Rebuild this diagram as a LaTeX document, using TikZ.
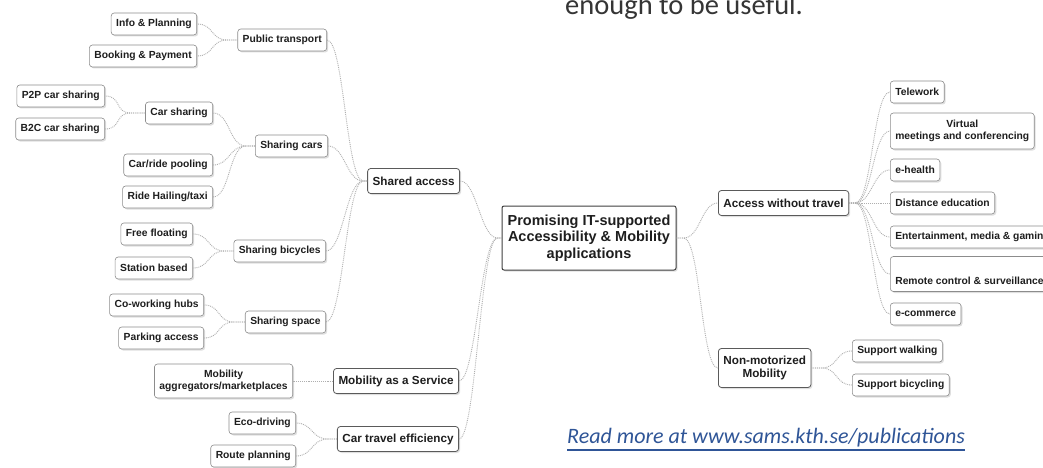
\documentclass[tikz,border=0pt]{standalone}
\usepackage{fontspec}
\setmainfont{Liberation Sans}
\newfontfamily\pagefont{Carlito}
\usetikzlibrary{shadows}
\definecolor{linkblue}{HTML}{2F5597}
\definecolor{boxline}{HTML}{8C8C8C}
\definecolor{topicline}{HTML}{5A5A5A}
\definecolor{wire}{HTML}{AFAFAF}
\definecolor{ink}{HTML}{1E1E1E}
\tikzset{
  leafbox/.style={draw=boxline, fill=white, rounded corners=3pt, line width=0.6pt,
    font=\bfseries\fontsize{10.3}{11.5}\selectfont, text=ink, align=center,
    inner xsep=5pt, inner ysep=2pt, minimum height=22pt,
    drop shadow={shadow xshift=1.5pt, shadow yshift=-1.5pt, opacity=0.25}},
  topicbox/.style={leafbox, draw=topicline, line width=0.8pt,
    font=\bfseries\fontsize{11.7}{13.5}\selectfont, minimum height=25pt},
  rootbox/.style={topicbox, draw=black!75, line width=1pt, rounded corners=2pt,
    font=\bfseries\fontsize{14.5}{16.5}\selectfont, minimum width=174pt, minimum height=64pt},
  lwire/.style={draw=wire, line width=0.9pt, densely dotted, out=180, in=0, distance=17pt},
  rwire/.style={lwire, out=0, in=180}
}
\begin{document}
\begin{tikzpicture}[x=1pt,y=-1pt]
\path[use as bounding box, clip] (0,0) rectangle (1043,468);
\fill[white] (0,0) rectangle (1043,468);

\node[font=\pagefont\fontsize{28.5}{30}\selectfont, text=ink!90, anchor=base west, inner sep=0] (usenote) at (565,15) {enough to be useful.};

\node[rootbox] (root) at (589,238) {Promising IT-supported\\Accessibility \& Mobility\\applications};

% left half
\node[topicbox, anchor=east] (sa) at (460,181) {Shared access};
\node[topicbox, anchor=east] (maas) at (459,381) {Mobility as a Service};
\node[topicbox, anchor=east] (cte) at (459,439) {Car travel efficiency};

\node[leafbox, anchor=east] (pt) at (327,40) {Public transport};
\node[leafbox, anchor=east] (info) at (197,24) {Info \& Planning};
\node[leafbox, anchor=east] (booking) at (197,56) {Booking \& Payment};

\node[leafbox, anchor=east] (sc) at (328,146) {Sharing cars};
\node[leafbox, anchor=east] (cs) at (213,113) {Car sharing};
\node[leafbox, anchor=east] (p2p) at (105,96) {P2P car sharing};
\node[leafbox, anchor=east] (b2c) at (105,129) {B2C car sharing};
\node[leafbox, anchor=east] (pool) at (213,165) {Car/ride pooling};
\node[leafbox, anchor=east] (hail) at (213,197) {Ride Hailing/taxi};

\node[leafbox, anchor=east] (sb) at (326,251) {Sharing bicycles};
\node[leafbox, anchor=east] (free) at (193,234) {Free floating};
\node[leafbox, anchor=east] (station) at (193,268) {Station based};

\node[leafbox, anchor=east] (ss) at (326,322) {Sharing space};
\node[leafbox, anchor=east] (cowork) at (204,305) {Co-working hubs};
\node[leafbox, anchor=east] (parking) at (204,338) {Parking access};

\node[leafbox, anchor=east, minimum height=34pt] (agg) at (293,381) {Mobility\\aggregators/marketplaces};
\node[leafbox, anchor=east] (eco) at (296,423) {Eco-driving};
\node[leafbox, anchor=east] (route) at (296,456) {Route planning};

% right half
\node[topicbox, anchor=west] (awt) at (718,203) {Access without travel};
\node[topicbox, anchor=west, minimum height=39pt] (nmm) at (718,368) {Non-motorized\\Mobility};

\node[leafbox, anchor=west] (tele) at (890,92) {Telework};
\node[leafbox, anchor=west, minimum height=36pt] (virtual) at (890,131) {Virtual\\meetings and conferencing};
\node[leafbox, anchor=west] (ehealth) at (890,170) {e-health};
\node[leafbox, anchor=west] (distance) at (890,203) {Distance education};
\node[leafbox, anchor=west] (ent) at (890,237) {Entertainment, media \& gaming};
\node[leafbox, anchor=west, minimum height=35pt] (remote) at (890,274) {\strut\\[2pt]Remote control \& surveillance};
\node[leafbox, anchor=west] (ecom) at (890,314) {e-commerce};
\node[leafbox, anchor=west] (walk) at (852,351) {Support walking};
\node[leafbox, anchor=west] (bike) at (852,385) {Support bicycling};

% connectors
\draw[lwire] (root.west) -- ++(-4,0) to (sa.east);
\draw[lwire] (root.west) -- ++(-4,0) to (maas.east);
\draw[lwire] (root.west) -- ++(-4,0) to (cte.east);
\draw[rwire] (root.east) -- ++(7,0) to (awt.west);
\draw[rwire] (root.east) -- ++(7,0) to (nmm.west);

\draw[lwire] (sa.west) -- ++(-4,0) to (pt.east);
\draw[lwire] (sa.west) -- ++(-4,0) to (sc.east);
\draw[lwire] (sa.west) -- ++(-4,0) to (sb.east);
\draw[lwire] (sa.west) -- ++(-4,0) to (ss.east);

\draw[lwire] (pt.west) -- ++(-10,0) to (info.east);
\draw[lwire] (pt.west) -- ++(-10,0) to (booking.east);
\draw[lwire] (sc.west) -- ++(-9,0) to (cs.east);
\draw[lwire] (sc.west) -- ++(-9,0) to (pool.east);
\draw[lwire] (sc.west) -- ++(-9,0) to (hail.east);
\draw[lwire] (cs.west) -- ++(-14,0) to (p2p.east);
\draw[lwire] (cs.west) -- ++(-14,0) to (b2c.east);
\draw[lwire] (sb.west) -- ++(-9,0) to (free.east);
\draw[lwire] (sb.west) -- ++(-9,0) to (station.east);
\draw[lwire] (ss.west) -- ++(-11,0) to (cowork.east);
\draw[lwire] (ss.west) -- ++(-11,0) to (parking.east);
\draw[lwire] (maas.west) -- (agg.east);
\draw[lwire] (cte.west) -- ++(-9,0) to (eco.east);
\draw[lwire] (cte.west) -- ++(-9,0) to (route.east);

\draw[rwire] (awt.east) -- ++(6,0) to (tele.west);
\draw[rwire] (awt.east) -- ++(6,0) to (virtual.west);
\draw[rwire] (awt.east) -- ++(6,0) to (ehealth.west);
\draw[rwire] (awt.east) -- ++(6,0) to (distance.west);
\draw[rwire] (awt.east) -- ++(6,0) to (ent.west);
\draw[rwire] (awt.east) -- ++(6,0) to (remote.west);
\draw[rwire] (awt.east) -- ++(6,0) to (ecom.west);
\draw[rwire] (nmm.east) -- ++(10,0) to (walk.west);
\draw[rwire] (nmm.east) -- ++(10,0) to (bike.west);

\node[font=\pagefont\itshape\fontsize{22}{24}\selectfont, text=linkblue, anchor=base west, inner sep=0] (more) at (567,443.5) {Read more at www.sams.kth.se/publications};
\draw[linkblue, line width=1.1pt] ([yshift=-6.5pt]more.base west) -- ([yshift=-6.5pt]more.base east);
\end{tikzpicture}
\end{document}
